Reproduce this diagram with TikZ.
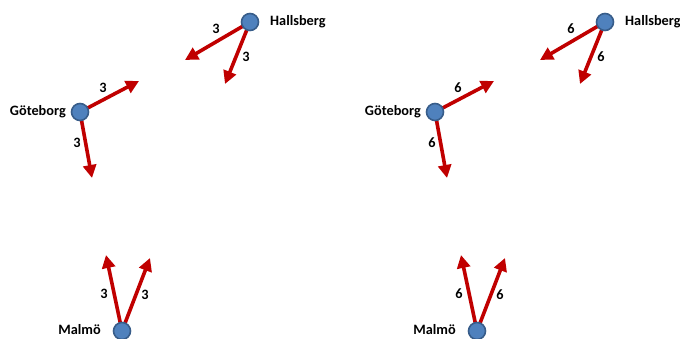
\documentclass[tikz,border=0pt]{standalone}
\usepackage{fontspec}
\setmainfont{Carlito}
\usetikzlibrary{arrows.meta}
\pgfdeclarelayer{bg}
\pgfsetlayers{bg,main}
\definecolor{nodeblue}{RGB}{79,129,189}
\definecolor{nodeedge}{RGB}{56,93,138}
\definecolor{arrred}{RGB}{192,0,0}
\tikzset{
  city/.style={circle,fill=nodeblue,draw=nodeedge,line width=1.6pt,minimum size=17pt,inner sep=0pt},
  cityname/.style={font=\bfseries\fontsize{14.3}{16}\selectfont,inner sep=0pt},
  flow/.style={draw=arrred,line width=3.6pt,-{Triangle[length=13pt,width=13pt]}},
  num/.style={font=\bfseries\fontsize{14.3}{16}\selectfont,inner sep=0pt}
}
\begin{document}
\begin{tikzpicture}[x=1pt,y=1pt]
\useasboundingbox (0,0) rectangle (680,338);
\clip (0,0) rectangle (680,338);
\foreach \dx/\v/\p in {0/3/a,355/6/b}{
\begin{scope}[xshift=\dx]
  \node[city] (h\p) at (250,316) {};
  \node[cityname,anchor=west] (hl\p) at (270,316) {Hallsberg};
  \node[city] (g\p) at (80,226) {};
  \node[cityname,anchor=east] (gl\p) at (66,226) {Göteborg};
  \node[city] (m\p) at (122,7) {};
  \node[cityname,anchor=base east] (ml\p) at (101,3.5) {Malmö};
  \coordinate (h1\p) at (185,278);
  \coordinate (h2\p) at (225,254);
  \coordinate (g1\p) at (139,257);
  \coordinate (g2\p) at (92,160);
  \coordinate (m1\p) at (106,83);
  \coordinate (m2\p) at (150,80);
  \begin{pgfonlayer}{bg}
    \draw[flow] (h\p.center) -- (h1\p);
    \draw[flow] (h\p.center) -- (h2\p);
    \draw[flow] (g\p.center) -- (g1\p);
    \draw[flow] (g\p.center) -- (g2\p);
    \draw[flow] (m\p.center) -- (m1\p);
    \draw[flow] (m\p.center) -- (m2\p);
  \end{pgfonlayer}
  \node[num] (nh1\p) at (216,309) {\v};
  \node[num] (nh2\p) at (246,281) {\v};
  \node[num] (ng1\p) at (103,250) {\v};
  \node[num] (ng2\p) at (77,195) {\v};
  \node[num] (nm1\p) at (104,44) {\v};
  \node[num] (nm2\p) at (145,43) {\v};
\end{scope}
}
\end{tikzpicture}
\end{document}
